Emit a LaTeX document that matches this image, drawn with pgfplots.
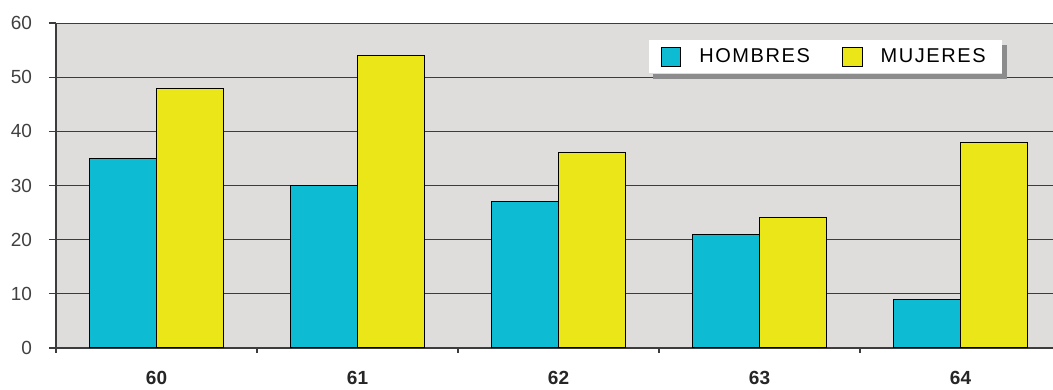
\documentclass[border=0pt]{standalone}
\usepackage{pgfplots}
\pgfplotsset{compat=1.18}
\usepackage{fontspec}
\setmainfont{Liberation Sans}
\definecolor{bgc}{HTML}{DEDDDC}
\definecolor{hom}{HTML}{0DBBD3}
\definecolor{muj}{HTML}{EBE617}
\definecolor{gridc}{HTML}{3C3C3C}
\definecolor{shad}{HTML}{8C8C8C}
\begin{document}
\begin{tikzpicture}
\begin{axis}[
  scale only axis,
  width=498.5pt, height=162.5pt,
  xmin=-0.5, xmax=4.46,
  ymin=0, ymax=60,
  ytick={0,10,...,60},
  xtick={0,1,2,3,4},
  xticklabels={60,61,62,63,64},
  minor xtick={-0.5,0.5,1.5,2.5,3.5},
  axis x line=bottom, axis y line=left,
  axis line style={-, draw=gridc, line width=0.6pt},
  tick align=outside,
  x tick style={draw=none},
  minor x tick style={draw=gridc, line width=0.6pt},
  minor tick length=2.5pt,
  y tick style={draw=gridc, line width=0.6pt},
  major tick length=3.5pt,
  ymajorgrids,
  major grid style={draw=gridc, line width=0.5pt},
  axis background/.style={fill=bgc},
  /pgf/number format/assume math mode=true,
  yticklabel style={font=\fontsize{9.5}{10}\selectfont, text=black!75, xshift=-5pt},
  xticklabel style={font=\fontsize{9.5}{10}\selectfont\bfseries, text=black!85, yshift=-4.5pt},
  ybar=0pt,
  bar width=0.333,
  legend columns=2,
  legend style={at={(0.949,0.948)}, anchor=north east, draw=none, fill=white,
    name=leg,
    font=\fontsize{10}{11}\selectfont\addfontfeature{LetterSpace=8},
    inner xsep=6pt, inner ysep=2pt,
    /tikz/every odd column/.append style={column sep=7pt},
    /tikz/every even column/.append style={column sep=14pt}},
]
\addplot[fill=hom, draw=black, line width=0.5pt,
  legend image code/.code={\draw[fill=hom, draw=black, line width=0.5pt] (0pt,-4.8pt) rectangle (9.8pt,4.8pt);}]
  coordinates {(0,35) (1,30) (2,27) (3,21) (4,9)};
\addplot[fill=muj, draw=black, line width=0.5pt,
  legend image code/.code={\draw[fill=muj, draw=black, line width=0.5pt] (0pt,-4.8pt) rectangle (9.8pt,4.8pt);}]
  coordinates {(0,48) (1,54) (2,36) (3,24) (4,38)};
\legend{HOMBRES, MUJERES}
\end{axis}
\fill[shad] (leg.north east) ++(0pt,-2.5pt) rectangle ([xshift=2.5pt,yshift=-2.5pt]leg.south east);
\fill[shad] ([xshift=2.5pt]leg.south west) rectangle ([yshift=-2.5pt]leg.south east);
\pgfresetboundingbox
\path (current axis.south west) ++(-28pt,-21pt) coordinate (bl);
\path (current axis.north east) ++(0pt,11.5pt) coordinate (tr);
\path (bl) rectangle (tr);
\end{tikzpicture}
\end{document}
